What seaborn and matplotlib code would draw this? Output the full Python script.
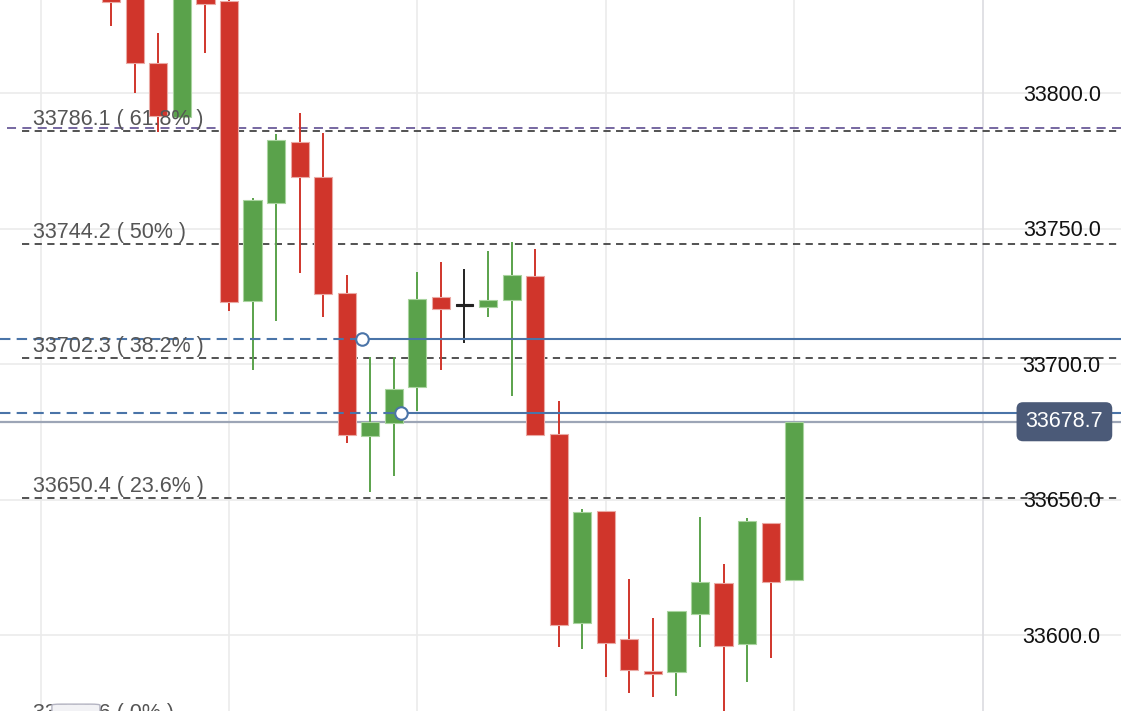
"""
Candlestick chart with Fibonacci retracement levels.
"""
import numpy as np
import matplotlib
matplotlib.use("Agg")
import matplotlib.pyplot as plt
from matplotlib.patches import FancyBboxPatch
import seaborn as sns

# candle index (x) and OHLC values
CANDLE_X = list(range(1, 31))
OPENS = [33836.0, 33840.0, 33811.1, 33791.1, 33838.0, 33833.9, 33723.2, 33759.4,
         33781.9, 33769.0, 33726.2, 33673.4, 33678.2, 33691.5, 33724.7, 33721.8,
         33721.0, 33723.6, 33732.5, 33674.2, 33604.4, 33645.8, 33598.5, 33586.7,
         33586.3, 33607.7, 33619.2, 33596.7, 33641.3, 33620.3]
HIGHS = [33840.0, 33845.0, 33822.1, 33850.0, 33842.0, 33836.0, 33761.3, 33784.9,
         33792.6, 33785.2, 33732.8, 33702.6, 33702.6, 33733.9, 33737.6, 33735.1,
         33741.7, 33745.0, 33742.4, 33686.3, 33646.5, 33645.8, 33620.7, 33606.3,
         33608.9, 33643.5, 33626.2, 33643.2, 33641.3, 33678.7]
LOWS = [33824.7, 33800.0, 33785.6, 33791.1, 33814.8, 33719.6, 33697.8, 33715.9,
        33733.6, 33717.3, 33670.8, 33652.8, 33658.7, 33682.7, 33697.8, 33707.7,
        33717.3, 33688.2, 33673.4, 33595.6, 33594.8, 33584.5, 33578.6, 33577.1,
        33577.5, 33595.6, 33570.5, 33582.7, 33591.5, 33620.3]
CLOSES = [33833.6, 33811.1, 33791.5, 33845.0, 33832.8, 33722.9, 33760.5, 33782.7,
          33769.0, 33725.8, 33673.8, 33678.6, 33690.8, 33724.0, 33720.3, 33721.8,
          33723.6, 33732.8, 33673.8, 33603.7, 33645.4, 33597.0, 33587.1, 33585.6,
          33608.9, 33619.6, 33595.9, 33642.1, 33619.6, 33678.7]

FIB_LEVELS = [33786.1, 33744.2, 33702.3, 33650.4, 33566.6]
FIB_LABELS = ["33786.1 ( 61.8% )", "33744.2 ( 50% )", "33702.3 ( 38.2% )",
              "33650.4 ( 23.6% )", "33566.6 ( 0% )"]

PRICE_TICKS = [33600.0, 33650.0, 33700.0, 33750.0, 33800.0]
TIME_GRID = [-2, 6, 14, 22, 30, 38]

PURPLE_LEVEL = 33787.1
ALERT_LEVELS = [33709.2, 33681.9]
ALERT_ANCHORS = [11.65, 13.3]
LAST_PRICE = 33678.7

RED = "#d0352b"
GREEN = "#5aa24b"
RED_EDGE = "#eaa9a4"
GREEN_EDGE = "#a9d49f"
BLUE = "#4a74a8"
FONT = ["Liberation Sans", "DejaVu Sans"]


def draw_candles(ax):
    for x, o, h, l, c in zip(CANDLE_X, OPENS, HIGHS, LOWS, CLOSES):
        if c > o:
            color, edge = GREEN, GREEN_EDGE
        elif c < o:
            color, edge = RED, RED_EDGE
        else:
            color, edge = "#222222", "#222222"
        ax.vlines(x, l, h, color=color, lw=1.4, zorder=3)
        height = max(abs(c - o), 0.6)
        width = 0.77 if c != o else 0.68
        ax.bar(x, height, bottom=min(o, c) - (height - abs(c - o)) / 2,
               width=width, color=color, edgecolor=edge, linewidth=0.8, zorder=4)


def main():
    sns.set_theme(style="white")
    plt.rcParams["font.family"] = FONT

    fig = plt.figure(figsize=(11.21, 7.11), dpi=100)
    ax = fig.add_axes([0, 0, 1, 1])
    ax.set_xlim(-3.724, 43.877)
    ax.set_ylim(33571.96, 33834.32)
    ax.axis("off")

    # grid
    for y in PRICE_TICKS:
        ax.axhline(y, color="#ebebeb", lw=1.2, zorder=0)
    for x in TIME_GRID:
        ax.axvline(x, color="#dcdce0" if x == 38 else "#ebebeb", lw=1.2, zorder=0)

    # price labels on the right
    for y in PRICE_TICKS:
        ax.text(0.982, y - 0.8, f"{y:.1f}", transform=ax.get_yaxis_transform(),
                ha="right", va="center", fontsize=15.5, color="#111111", zorder=6)

    # fib retracement levels
    for level, label in zip(FIB_LEVELS, FIB_LABELS):
        ax.plot([0.02, 1], [level, level], transform=ax.get_yaxis_transform(),
                color="#444444", lw=1.3, ls=(0, (4, 3)), zorder=2)
        ax.text(0.029, level + 0.4, label, transform=ax.get_yaxis_transform(),
                ha="left", va="bottom", fontsize=15.5, color="#555555", zorder=6)
    ax.plot([0.006, 1], [PURPLE_LEVEL, PURPLE_LEVEL], transform=ax.get_yaxis_transform(),
            color="#6b5c9a", lw=1.3, ls=(0, (5, 3.5)), zorder=2)

    draw_candles(ax)

    # last price line
    ax.axhline(LAST_PRICE, color="#9ca5b6", lw=1.6, zorder=2)

    # horizontal alert lines
    for level, anchor in zip(ALERT_LEVELS, ALERT_ANCHORS):
        ax.plot([-3.724, anchor], [level, level], color=BLUE, lw=1.5,
                ls=(0, (5, 3)), zorder=5)
        ax.plot([anchor, 43.877], [level, level], color=BLUE, lw=1.5, zorder=5)
        ax.plot(anchor, level, marker="o", ms=9, mfc="white", mec=BLUE, mew=1.5, zorder=7)

    # last price tag
    ax.text(0.9495, LAST_PRICE, f"{LAST_PRICE:.1f}", transform=ax.get_yaxis_transform(),
            ha="center", va="center", fontsize=15.5, color="white", zorder=8,
            bbox=dict(boxstyle="round,pad=0.42,rounding_size=0.3", fc="#4b5a78", ec="none"))

    # small overlay box on the 0% label
    ax.add_patch(FancyBboxPatch((-1.52, 33569.5), 2.04, 5.0,
                                boxstyle="round,pad=0,rounding_size=0.4",
                                fc="#f2f2f5", ec="#b4b4c2", lw=1.0, zorder=7))

    fig.savefig("out.png", dpi=100)
    plt.close(fig)


if __name__ == "__main__":
    main()
